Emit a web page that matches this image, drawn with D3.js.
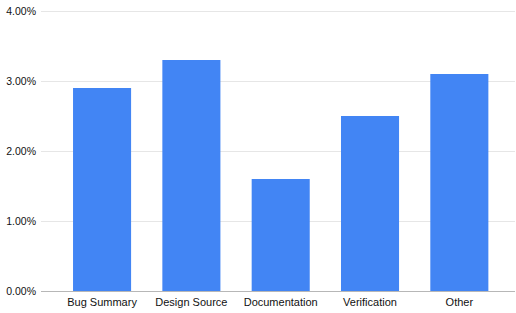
<!DOCTYPE html>
<html>
<head>
<meta charset="utf-8">
<script src="https://cdn.jsdelivr.net/npm/d3@7"></script>
<style>
  body { margin: 0; background: #fff; }
  text { font-family: "Liberation Sans", Arial, sans-serif; fill: #111; }
</style>
</head>
<body>
<svg width="516" height="313"></svg>
<script>
const categories = ['Bug Summary', 'Design Source', 'Documentation', 'Verification', 'Other']
const shares = [0.029, 0.033, 0.016, 0.025, 0.031]
const yTicks = [0, 0.01, 0.02, 0.03, 0.04]

const svg = d3.select('svg')
const gridLeft = 41
const gridRight = 515

const x = d3.scaleBand()
  .domain(categories)
  .range([57.4, 504])
  .paddingInner(0.35)
  .paddingOuter(0.175)

const y = d3.scaleLinear()
  .domain([0, 0.04])
  .range([291, 11])

const fmt = d3.format('.2%')

// gridlines
svg.append('g')
  .selectAll('line')
  .data(yTicks.filter(d => d > 0))
  .enter()
  .append('line')
  .attr('x1', gridLeft)
  .attr('x2', gridRight)
  .attr('y1', d => y(d) + 0.5)
  .attr('y2', d => y(d) + 0.5)
  .attr('stroke', '#e6e6e6')
  .attr('stroke-width', 1)

// y labels
svg.append('g')
  .selectAll('text')
  .data(yTicks)
  .enter()
  .append('text')
  .attr('x', 36)
  .attr('y', d => y(d))
  .attr('dy', '0.35em')
  .attr('text-anchor', 'end')
  .style('font-size', '10.5px')
  .text(d => fmt(d))

// bars
svg.append('g')
  .selectAll('rect')
  .data(shares)
  .enter()
  .append('rect')
  .attr('x', (d, i) => x(categories[i]))
  .attr('y', d => y(d))
  .attr('width', x.bandwidth())
  .attr('height', d => y(0) - y(d))
  .attr('fill', '#4285f4')

// baseline
svg.append('line')
  .attr('x1', gridLeft)
  .attr('x2', gridRight)
  .attr('y1', y(0) + 0.5)
  .attr('y2', y(0) + 0.5)
  .attr('stroke', '#b7b7b7')
  .attr('stroke-width', 1)

// x labels
svg.append('g')
  .selectAll('text')
  .data(categories)
  .enter()
  .append('text')
  .attr('x', d => x(d) + x.bandwidth() / 2)
  .attr('y', 306)
  .attr('text-anchor', 'middle')
  .style('font-size', '11px')
  .text(d => d)
</script>
</body>
</html>
